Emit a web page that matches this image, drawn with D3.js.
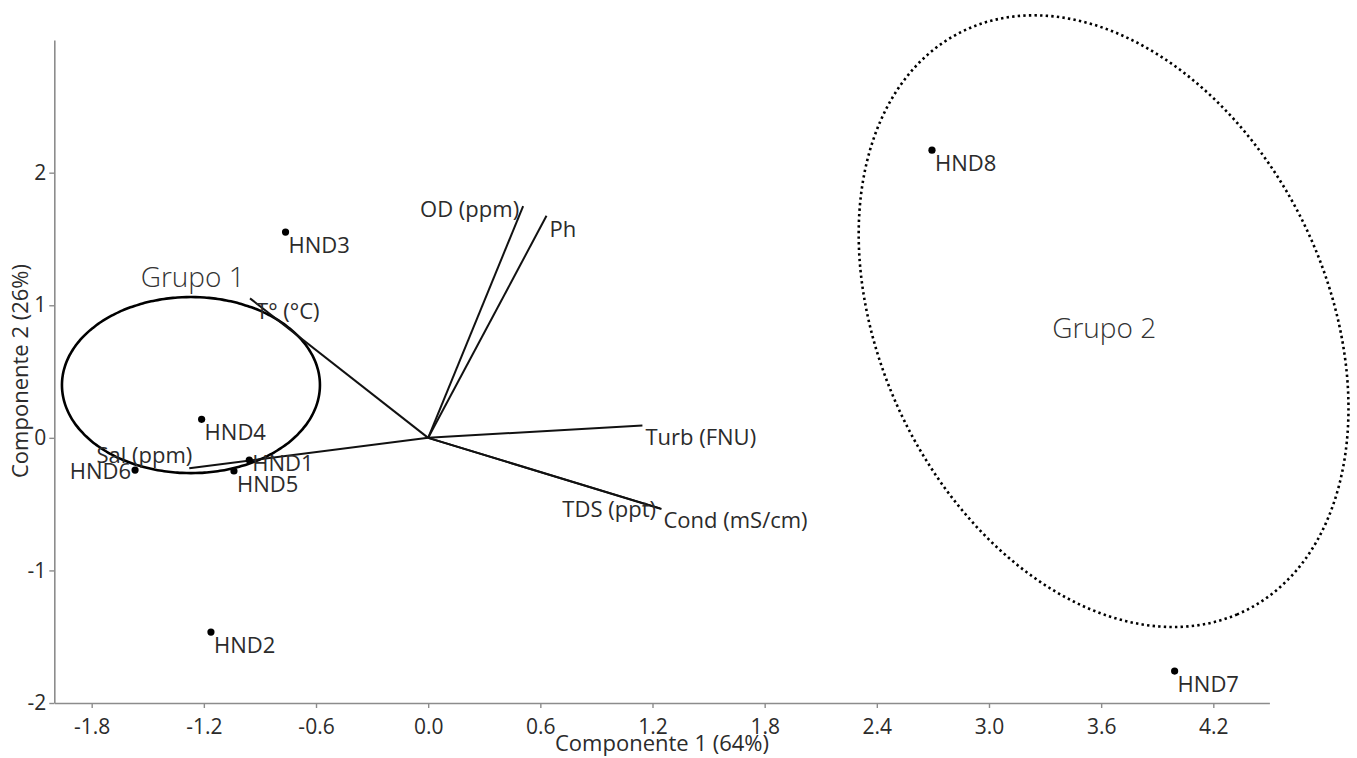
<!DOCTYPE html>
<html>
<head>
<meta charset="utf-8">
<script src="https://cdn.jsdelivr.net/npm/d3@7"></script>
<style>
  html, body { margin: 0; padding: 0; background: #fff; }
  svg { display: block; font-family: "Open Sans", "Noto Sans", sans-serif; }
</style>
</head>
<body>
<svg id="chart" width="1357" height="758"></svg>
<script>
// PCA biplot: sample scores (HND1–HND8) and variable loadings
const sampleNames = ["HND1", "HND2", "HND3", "HND4", "HND5", "HND6", "HND7", "HND8"];
const sampleC1 = [-0.957, -1.162, -0.763, -1.212, -1.039, -1.568, 3.993, 2.695];
const sampleC2 = [-0.167, -1.465, 1.552, 0.140, -0.250, -0.243, -1.759, 2.170];

const variableNames = ["OD (ppm)", "Ph", "T° (°C)", "Sal (ppm)", "Turb (FNU)", "TDS (ppt)", "Cond (mS/cm)"];
const variableC1 = [0.508, 0.633, -0.953, -1.278, 1.146, 1.240, 1.248];
const variableC2 = [1.748, 1.675, 1.052, -0.230, 0.094, -0.532, -0.537];

const xTicks = [-1.8, -1.2, -0.6, 0.0, 0.6, 1.2, 1.8, 2.4, 3.0, 3.6, 4.2];
const yTicks = [-2, -1, 0, 1, 2];

// Group ellipses: centre plus two semi-axis vectors, in component units
const groupNames = ["Grupo 1", "Grupo 2"];
const groupCenters = [[-1.269, 0.398], [3.613, 0.880]];
const groupAxisA = [[0.690, 0.000], [0.753, -2.187]];
const groupAxisB = [[0.000, 0.664], [-1.072, -0.734]];
const groupLabelAt = [[-1.538, 1.137], [3.338, 0.753]];

// label placement (pixel offsets from the mark, text anchor)
const sampleLabelPlacement = {
  default: { dx: 3, dy: 21, anchor: "start" },
  HND1: { dx: 3, dy: 11, anchor: "start" },
  HND6: { dx: -4, dy: 9, anchor: "end" }
};
const variableLabelPlacement = {
  "OD (ppm)": { dx: -4, dy: 11, anchor: "end" },
  "Ph": { dx: 3, dy: 21, anchor: "start" },
  "T° (°C)": { dx: 6, dy: 21, anchor: "start" },
  "Sal (ppm)": { dx: 3, dy: -5, anchor: "end" },
  "Turb (FNU)": { dx: 3, dy: 20, anchor: "start" },
  "TDS (ppt)": { dx: -4, dy: 9, anchor: "end" },
  "Cond (mS/cm)": { dx: 2, dy: 19, anchor: "start" }
};

const svg = d3.select("#chart");
const x = d3.scaleLinear().domain([-2, 4.5]).range([54.3, 1269.4]);
const y = d3.scaleLinear().domain([-2, 3]).range([703, 40.1]);

const axisColor = "#8c8c8c";
const textColor = "#2b2b2b";
const fmt = d => (Math.abs(d) < 1e-9 ? 0 : d).toFixed(1);

// x axis
const gx = svg.append("g")
  .attr("transform", `translate(0,${y(-2)})`)
  .call(d3.axisBottom(x).tickValues(xTicks).tickFormat(fmt).tickSize(5).tickPadding(11).tickSizeOuter(0));
// y axis
const gy = svg.append("g")
  .attr("transform", `translate(${x(-2)},0)`)
  .call(d3.axisLeft(y).tickValues(yTicks).tickFormat(d => String(d)).tickSize(5).tickPadding(3).tickSizeOuter(0));

[gx, gy].forEach(g => {
  g.select(".domain").attr("stroke", axisColor).attr("stroke-width", 1.6);
  g.selectAll(".tick line").attr("stroke", axisColor).attr("stroke-width", 1.4);
  g.selectAll(".tick text").attr("fill", textColor).style("font-size", "21px")
    .style("font-family", "\"Open Sans\", sans-serif");
});

// axis titles
svg.append("text")
  .attr("x", 662).attr("y", 751)
  .attr("text-anchor", "middle")
  .attr("fill", textColor).style("font-size", "22px")
  .text("Componente 1 (64%)");
svg.append("text")
  .attr("transform", `translate(28,${371}) rotate(-90)`)
  .attr("text-anchor", "middle")
  .attr("fill", textColor).style("font-size", "22px")
  .text("Componente 2 (26%)");

// group ellipses
const ellipsePath = i => {
  const [cx, cy] = groupCenters[i], a = groupAxisA[i], b = groupAxisB[i];
  const pts = d3.range(0, 360, 2).map(deg => {
    const t = deg * Math.PI / 180;
    return [x(cx + Math.cos(t) * a[0] + Math.sin(t) * b[0]),
            y(cy + Math.cos(t) * a[1] + Math.sin(t) * b[1])];
  });
  return d3.line().curve(d3.curveCardinalClosed)(pts);
};
svg.append("path").attr("d", ellipsePath(0))
  .attr("fill", "none").attr("stroke", "#000").attr("stroke-width", 2.6);
svg.append("path").attr("d", ellipsePath(1))
  .attr("fill", "none").attr("stroke", "#000").attr("stroke-width", 2.6)
  .attr("stroke-dasharray", "2.4,3.2");

groupNames.forEach((name, i) => {
  svg.append("text")
    .attr("x", x(groupLabelAt[i][0])).attr("y", y(groupLabelAt[i][1]))
    .attr("fill", "#333").style("font-size", "28px").style("font-weight", 300)
    .text(name);
});

// loading vectors
const vars = variableNames.map((n, i) => ({ name: n, c1: variableC1[i], c2: variableC2[i] }));
svg.append("g").selectAll("line").data(vars).join("line")
  .attr("x1", x(0)).attr("y1", y(0))
  .attr("x2", d => x(d.c1)).attr("y2", d => y(d.c2))
  .attr("stroke", "#111").attr("stroke-width", 2);

svg.append("g").selectAll("text").data(vars).join("text")
  .each(function (d) {
    const p = variableLabelPlacement[d.name];
    d3.select(this)
      .attr("x", x(d.c1) + p.dx).attr("y", y(d.c2) + p.dy)
      .attr("text-anchor", p.anchor);
  })
  .attr("fill", textColor).style("font-size", "22px")
  .text(d => d.name);

// sample scores
const samples = sampleNames.map((n, i) => ({ name: n, c1: sampleC1[i], c2: sampleC2[i] }));
svg.append("g").selectAll("circle").data(samples).join("circle")
  .attr("cx", d => x(d.c1)).attr("cy", d => y(d.c2)).attr("r", 3.6)
  .attr("fill", "#000");

svg.append("g").selectAll("text").data(samples).join("text")
  .each(function (d) {
    const p = sampleLabelPlacement[d.name] || sampleLabelPlacement.default;
    d3.select(this)
      .attr("x", x(d.c1) + p.dx).attr("y", y(d.c2) + p.dy)
      .attr("text-anchor", p.anchor);
  })
  .attr("fill", textColor).style("font-size", "22px")
  .text(d => d.name);
</script>
</body>
</html>
